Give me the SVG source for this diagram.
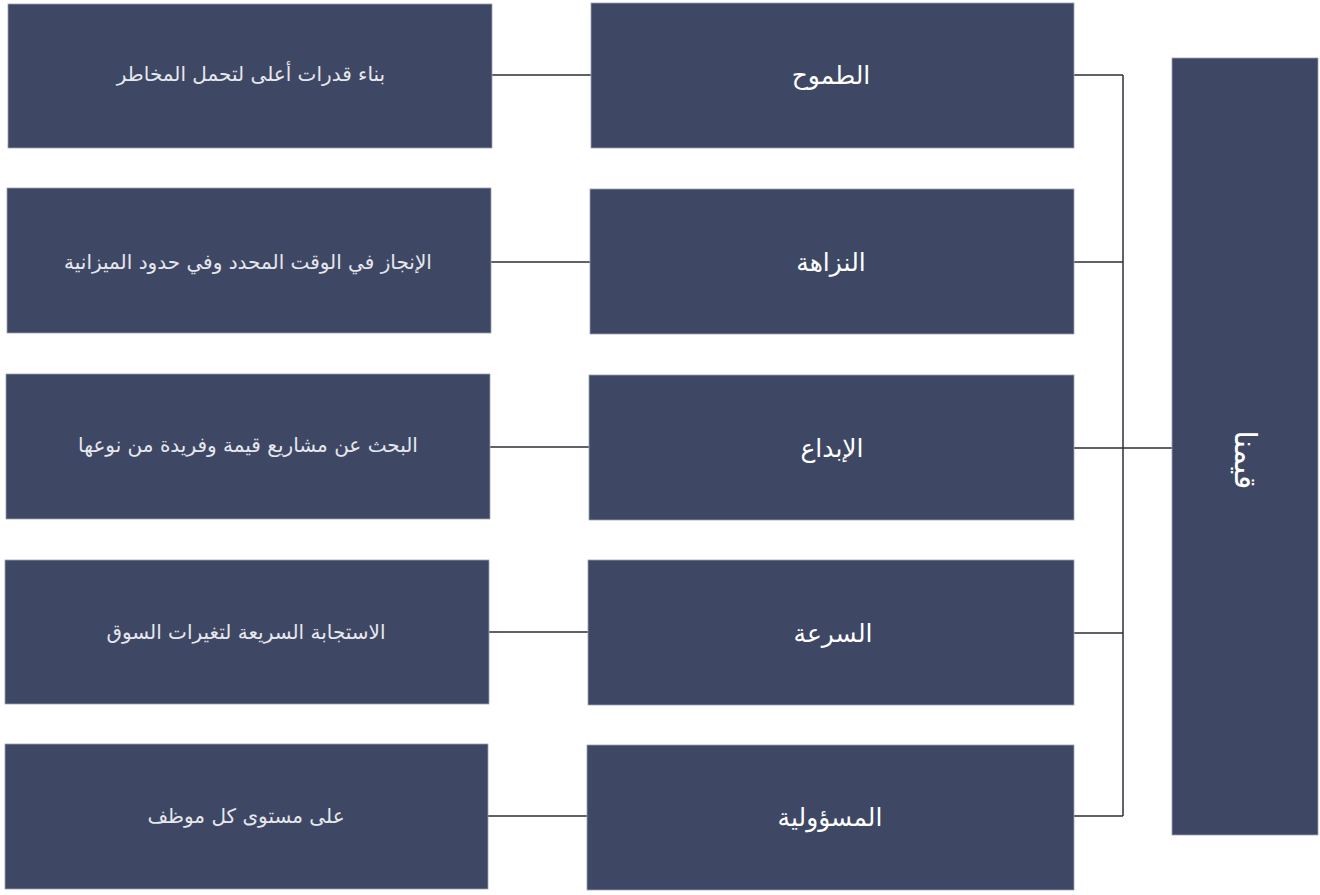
<svg xmlns="http://www.w3.org/2000/svg" width="1320" height="895" viewBox="0 0 1320 895">
<style>
.box{fill:#3e4763;stroke:#9aa2b4;stroke-width:0.8}
.lbl{font-family:"DejaVu Sans","Liberation Sans",sans-serif;fill:#ffffff;text-anchor:middle;dominant-baseline:central}
.mid{font-size:25px}
.left{font-size:20px;fill:#e6e7ee}
.big{font-size:30px}
.con{stroke:#2b2f38;stroke-width:1.5;fill:none}
</style>
<rect width="1320" height="895" fill="#ffffff"/>
<g id="connectors">
<path class="con" d="M1123 75 V816"/>
<path class="con" d="M1074 75 H1123 M1074 262 H1123 M1074 448 H1123 M1074 633 H1123 M1074 816 H1123 M1123 448 H1172"/>
<path class="con" d="M491 75 H591 M491 262 H590 M489 447 H589 M489 632 H588 M488 816 H587"/>
</g>
<g id="values">
<rect class="box" x="1172" y="58" width="146" height="777"/>
<text class="lbl big" direction="rtl" transform="translate(1245 460) rotate(90)">قيمنا</text>
</g>
<g id="ambition">
<rect class="box" x="591" y="3" width="483" height="145"/>
<text class="lbl mid" direction="rtl" x="831" y="75">الطموح</text>
</g>
<g id="integrity">
<rect class="box" x="590" y="189" width="484" height="145"/>
<text class="lbl mid" direction="rtl" x="831" y="262">النزاهة</text>
</g>
<g id="creativity">
<rect class="box" x="589" y="375" width="485" height="145"/>
<text class="lbl mid" direction="rtl" x="832" y="448">الإبداع</text>
</g>
<g id="speed">
<rect class="box" x="588" y="560" width="486" height="145"/>
<text class="lbl mid" direction="rtl" x="833" y="633">السرعة</text>
</g>
<g id="responsibility">
<rect class="box" x="587" y="745" width="487" height="145"/>
<text class="lbl mid" direction="rtl" x="830" y="817">المسؤولية</text>
</g>
<g id="ambition-desc">
<rect class="box" x="8" y="4" width="484" height="144"/>
<text class="lbl left" direction="rtl" x="251" y="74">بناء قدرات أعلى لتحمل المخاطر</text>
</g>
<g id="integrity-desc">
<rect class="box" x="7" y="188" width="484" height="145"/>
<text class="lbl left" direction="rtl" x="248" y="262">الإنجاز في الوقت المحدد وفي حدود الميزانية</text>
</g>
<g id="creativity-desc">
<rect class="box" x="6" y="374" width="484" height="145"/>
<text class="lbl left" direction="rtl" x="248" y="445">البحث عن مشاريع قيمة وفريدة من نوعها</text>
</g>
<g id="speed-desc">
<rect class="box" x="5" y="560" width="484" height="144"/>
<text class="lbl left" direction="rtl" x="246" y="632">الاستجابة السريعة لتغيرات السوق</text>
</g>
<g id="responsibility-desc">
<rect class="box" x="5" y="744" width="483" height="145"/>
<text class="lbl left" direction="rtl" x="246" y="816">على مستوى كل موظف</text>
</g>
</svg>
